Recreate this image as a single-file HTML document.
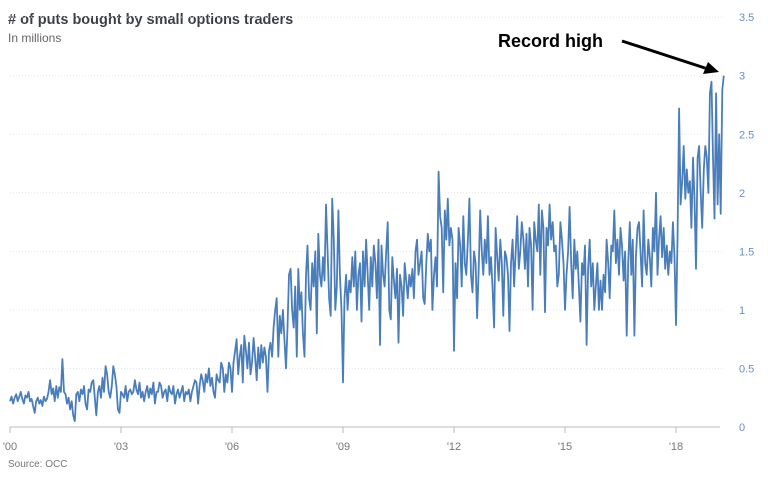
<!DOCTYPE html>
<html><head><meta charset="utf-8">
<style>
body{margin:0;background:#fff;}
svg{display:block;font-family:"Liberation Sans",sans-serif;}
</style></head>
<body>
<svg id="chart" width="768" height="480" viewBox="0 0 768 480">
<text x="8" y="24" font-size="14.5" font-weight="bold" fill="#3a3f47"># of puts bought by small options traders</text>
<text x="8" y="42" font-size="12" fill="#666">In millions</text>
<text x="8" y="467" font-size="10" fill="#777">Source: OCC</text>
<g id="grid"></g>
<g id="yticks"></g>
<g id="xticks"></g>
<line x1="10" y1="427" x2="720" y2="427" stroke="#bbb" stroke-width="1"/>
<path id="line" fill="none" stroke="#4a7ebb" stroke-width="1.8" stroke-linejoin="round"/>
<text x="498" y="47" font-size="18" font-weight="bold" fill="#000">Record high</text>
<line x1="622" y1="41" x2="708" y2="69" stroke="#000" stroke-width="3"/>
<polygon points="719,72 703,74 708,62" fill="#000"/>
</svg>
<script>
const startYear = 2000;
const stepYears = 1/24;
const values = [
0.22,0.26,0.2,0.25,0.28,0.22,0.26,0.3,0.24,0.2,0.27,0.25,0.3,0.22,0.24,0.18,0.12,0.22,0.25,0.2,0.23,0.18,0.26,0.22,
0.24,0.3,0.4,0.28,0.33,0.22,0.35,0.25,0.34,0.3,0.58,0.3,0.28,0.2,0.25,0.15,0.22,0.1,0.05,0.28,0.3,0.22,0.32,0.28,
0.35,0.2,0.15,0.32,0.3,0.38,0.4,0.25,0.1,0.3,0.35,0.25,0.42,0.3,0.52,0.45,0.3,0.25,0.35,0.52,0.45,0.35,0.15,0.12,
0.3,0.28,0.25,0.35,0.22,0.3,0.32,0.28,0.3,0.4,0.32,0.28,0.38,0.25,0.3,0.22,0.3,0.35,0.25,0.33,0.28,0.38,0.2,0.3,
0.3,0.38,0.35,0.25,0.3,0.32,0.22,0.35,0.3,0.28,0.35,0.2,0.28,0.32,0.25,0.3,0.35,0.22,0.3,0.28,0.32,0.22,0.3,0.35,
0.4,0.38,0.2,0.35,0.45,0.4,0.3,0.45,0.38,0.5,0.35,0.42,0.3,0.25,0.45,0.4,0.38,0.55,0.5,0.3,0.45,0.38,0.55,0.5,
0.3,0.55,0.65,0.75,0.45,0.6,0.7,0.38,0.78,0.65,0.5,0.72,0.45,0.55,0.76,0.6,0.4,0.68,0.5,0.7,0.55,0.68,0.6,0.3,
0.65,0.72,0.6,0.85,1.0,1.1,0.6,0.95,0.8,1.0,0.75,0.5,0.85,1.3,1.35,1.0,0.85,1.2,0.6,1.35,1.0,1.15,0.8,0.6,
1.3,1.55,1.1,1.0,1.4,1.2,1.5,0.8,1.65,1.3,1.2,1.45,1.25,1.9,1.5,1.1,0.95,1.95,1.6,1.0,1.2,1.85,1.3,1.0,
0.38,1.1,1.3,1.0,1.25,1.15,1.45,1.2,1.5,1.0,1.3,1.4,0.9,1.5,1.2,1.6,1.3,1.0,1.45,1.2,1.55,1.4,1.1,1.6,
0.7,1.55,1.3,1.2,1.5,1.75,1.0,0.92,1.45,1.25,1.1,1.35,0.72,1.3,1.2,0.95,1.4,1.25,1.1,1.3,1.2,1.35,1.1,1.5,
1.6,1.3,1.4,1.5,1.1,1.05,1.4,1.65,1.5,1.6,1.0,1.3,1.45,1.2,2.18,1.8,1.7,1.15,1.85,1.6,1.95,1.55,1.7,1.6,
0.65,1.4,1.1,1.7,1.55,1.2,1.8,1.4,1.3,1.6,1.95,1.3,1.15,1.5,1.4,0.93,1.35,1.85,1.5,1.3,1.6,1.4,1.8,1.3,
1.45,1.2,0.85,1.7,1.45,1.25,1.6,1.4,0.95,1.5,1.45,1.3,0.82,1.4,1.6,1.2,1.5,1.8,1.35,1.5,1.75,1.6,1.35,1.65,
1.2,1.7,1.55,1.0,1.75,1.6,1.5,1.9,1.3,1.85,1.7,0.98,1.7,1.55,1.9,1.6,1.75,1.5,1.55,1.2,1.3,1.75,1.6,1.4,
1.0,1.3,1.5,1.88,1.4,1.1,1.6,1.35,1.5,1.2,0.9,1.4,1.3,1.55,0.7,1.35,1.6,1.2,1.4,1.0,1.2,1.4,1.0,1.25,
1.0,1.3,1.15,1.6,1.4,1.1,1.55,1.5,1.85,1.4,1.6,1.3,1.7,1.55,1.25,1.5,0.78,1.4,1.75,1.3,1.6,0.78,1.45,1.7,
1.75,1.5,1.2,1.85,1.4,1.3,1.6,1.45,1.2,1.7,1.5,2.0,1.3,1.6,1.8,1.45,1.7,1.35,1.55,1.3,1.5,1.4,1.75,1.45,
0.87,1.6,2.72,1.9,2.1,2.4,1.95,2.2,2.0,2.1,1.7,2.3,1.95,1.35,2.3,2.4,2.0,1.7,2.2,2.4,2.3,2.0,2.85,2.95,
2.3,1.78,2.85,1.9,2.5,1.82,2.88,3.0
];
const yTicks = [0,0.5,1,1.5,2,2.5,3,3.5];
const yTickLabels = ["0","0.5","1","1.5","2","2.5","3","3.5"];
const xTickYears = [2000,2003,2006,2009,2012,2015,2018];
const xTickLabels = ["'00","'03","'06","'09","'12","'15","'18"];

const NS = "http://www.w3.org/2000/svg";
function xScale(yr){ return 10 + (yr - 2000) * 37; }
function yScale(v){ return 427 - v * 117.1; }

const grid = document.getElementById('grid');
const yt = document.getElementById('yticks');
yTicks.forEach((v,i)=>{
  if (v > 0) {
    const l = document.createElementNS(NS,'line');
    l.setAttribute('x1',10); l.setAttribute('x2',722);
    l.setAttribute('y1',yScale(v)); l.setAttribute('y2',yScale(v));
    l.setAttribute('stroke','#e6e6e6'); l.setAttribute('stroke-dasharray','1,2');
    
    
    grid.appendChild(l);
  }
  const t = document.createElementNS(NS,'text');
  t.setAttribute('x',739); t.setAttribute('y',yScale(v)+4);
  t.setAttribute('font-size','11'); t.setAttribute('fill','#6b8fc4');
  t.textContent = yTickLabels[i];
  
  
  yt.appendChild(t);
});
const xt = document.getElementById('xticks');
xTickYears.forEach((yr,i)=>{
  const x = xScale(yr);
  const l = document.createElementNS(NS,'line');
  l.setAttribute('x1',x); l.setAttribute('x2',x);
  l.setAttribute('y1',427); l.setAttribute('y2',433);
  l.setAttribute('stroke','#bbb');
  
  
  xt.appendChild(l);
  const t = document.createElementNS(NS,'text');
  t.setAttribute('x',x); t.setAttribute('y',450);
  t.setAttribute('font-size','11'); t.setAttribute('fill','#777');
  t.setAttribute('text-anchor','middle');
  t.textContent = xTickLabels[i];
  
  
  xt.appendChild(t);
});
let d = '';
values.forEach((v,i)=>{
  const x = xScale(startYear + i*stepYears);
  d += (i ? 'L' : 'M') + x.toFixed(1) + ',' + yScale(v).toFixed(1);
});
document.getElementById('line').setAttribute('d', d);
</script>
</body></html>
